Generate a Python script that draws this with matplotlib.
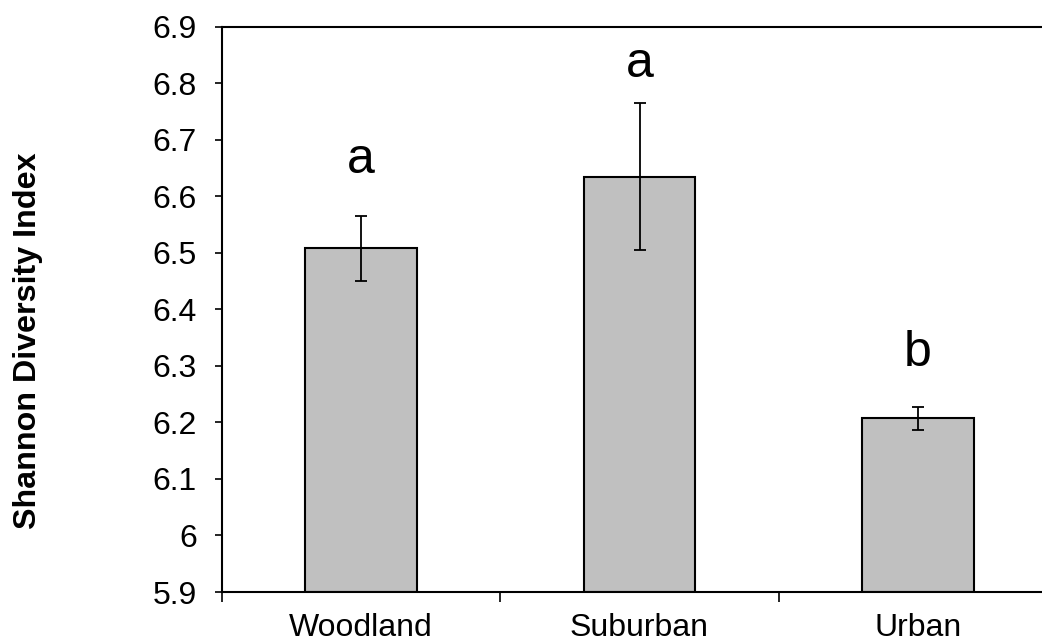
import matplotlib
matplotlib.use("Agg")
import matplotlib.pyplot as plt
import numpy as np

categories = ["Woodland", "Suburban", "Urban"]
means = [6.508, 6.635, 6.207]
errors = [0.058, 0.130, 0.020]
letters = ["a", "a", "b"]
letter_y = [6.641, 6.8115, 6.300]
ytick_vals = [5.9, 6.0, 6.1, 6.2, 6.3, 6.4, 6.5, 6.6, 6.7, 6.8, 6.9]
ytick_labels = ["5.9", "6", "6.1", "6.2", "6.3", "6.4", "6.5", "6.6", "6.7", "6.8", "6.9"]

plt.rcParams["font.family"] = ["Liberation Sans", "DejaVu Sans"]

W, H = 1042, 644
fig = plt.figure(figsize=(W / 100, H / 100), dpi=100)
left, right, bottom, top = 222, 1057, 592, 26.7
ax = fig.add_axes([left / W, (H - bottom) / H, (right - left) / W, (bottom - top) / H])

x = np.arange(len(categories))
ax.bar(x, [m - 5.9 for m in means], bottom=5.9, width=0.40, color="#C0C0C0",
       edgecolor="black", linewidth=1.5, zorder=2)
ax.errorbar(x, means, yerr=errors, fmt="none", ecolor="black", elinewidth=1.3,
            capsize=4, capthick=1.3, zorder=3)
for xi, lab, ly in zip(x, letters, letter_y):
    ax.text(xi, ly, lab, ha="center", va="baseline", fontsize=36, color="black")

ax.set_xlim(-0.5, len(categories) - 0.5)
ax.set_ylim(5.9, 6.9)
ax.set_yticks(ytick_vals)
ax.set_yticklabels(ytick_labels, fontsize=23)
ax.tick_params(axis="y", direction="out", length=5, width=1.2, pad=13)

ax.set_xticks(np.arange(len(categories) + 1) - 0.5)
ax.set_xticklabels([])
ax.tick_params(axis="x", which="major", direction="out", length=7.5, width=1.2)
ax.set_xticks(x, minor=True)
ax.set_xticklabels(categories, minor=True, fontsize=23)
ax.tick_params(axis="x", which="minor", length=0, pad=15)

for s in ["left", "bottom", "top"]:
    ax.spines[s].set_linewidth(1.5)
ax.spines["right"].set_visible(False)

ax.set_ylabel("Shannon Diversity Index", fontsize=23.2, fontweight="bold")
ax.yaxis.set_label_coords(-0.214, 0.444)

fig.savefig("out.png", dpi=100)
